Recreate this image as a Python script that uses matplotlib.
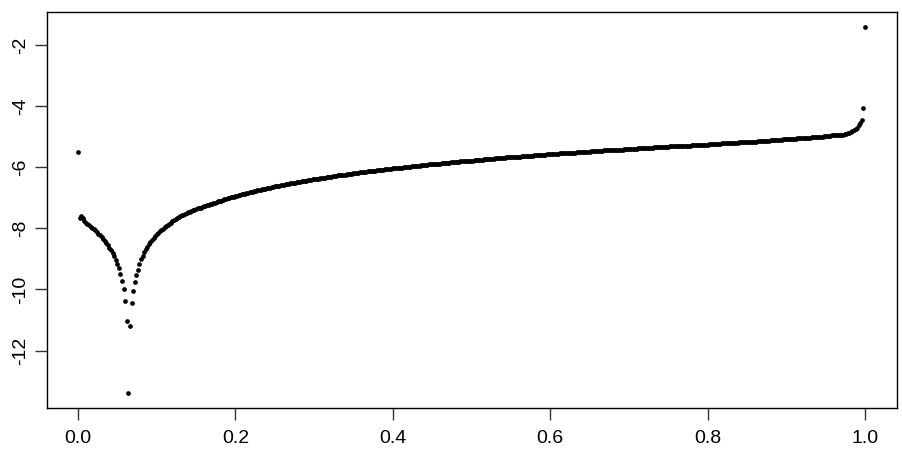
import numpy as np
import matplotlib
matplotlib.use("Agg")
import matplotlib.pyplot as plt

# ---- data ----
n_points = 501  # x runs over [0, 1] on an even grid

# values for x = 0.000 .. 0.064 (left branch and the dip)
y_left = [-5.50, -7.66, -7.60, -7.66, -7.76, -7.82, -7.86, -7.90, -7.94, -7.98,
          -8.03, -8.07, -8.12, -8.17, -8.23, -8.28, -8.35, -8.41, -8.48, -8.55,
          -8.63, -8.72, -8.82, -8.92, -9.04, -9.18, -9.31, -9.49, -9.71, -9.97,
          -10.37, -11.02, -13.40]

# values for x = 0.066 .. 0.996 (right branch)
y_right = [
    -11.20, -10.45, -10.06, -9.77, -9.54, -9.35, -9.17, -9.01, -8.89, -8.78,
    -8.69, -8.60, -8.52, -8.45, -8.38, -8.31, -8.25, -8.20, -8.14, -8.09,
    -8.06, -8.01, -7.97, -7.93, -7.89, -7.85, -7.81, -7.77, -7.74, -7.70,
    -7.67, -7.64, -7.61, -7.58, -7.55, -7.53, -7.50, -7.48, -7.46, -7.44,
    -7.41, -7.40, -7.37, -7.35, -7.34, -7.32, -7.30, -7.28, -7.26, -7.24,
    -7.23, -7.21, -7.19, -7.18, -7.16, -7.14, -7.12, -7.10, -7.09, -7.07,
    -7.05, -7.04, -7.02, -7.01, -6.99, -6.98, -6.96, -6.95, -6.93, -6.92,
    -6.90, -6.89, -6.87, -6.86, -6.85, -6.83, -6.82, -6.81, -6.80, -6.78,
    -6.77, -6.76, -6.75, -6.73, -6.72, -6.71, -6.70, -6.69, -6.68, -6.67,
    -6.65, -6.64, -6.63, -6.62, -6.61, -6.60, -6.59, -6.58, -6.57, -6.56,
    -6.55, -6.54, -6.53, -6.52, -6.51, -6.50, -6.49, -6.48, -6.47, -6.46,
    -6.46, -6.45, -6.44, -6.43, -6.42, -6.41, -6.40, -6.39, -6.39, -6.38,
    -6.37, -6.36, -6.35, -6.34, -6.34, -6.33, -6.32, -6.31, -6.31, -6.30,
    -6.29, -6.28, -6.27, -6.27, -6.26, -6.25, -6.25, -6.24, -6.23, -6.22,
    -6.22, -6.21, -6.20, -6.20, -6.19, -6.18, -6.17, -6.17, -6.16, -6.15,
    -6.15, -6.14, -6.13, -6.13, -6.12, -6.12, -6.11, -6.10, -6.10, -6.09,
    -6.08, -6.08, -6.07, -6.07, -6.06, -6.05, -6.05, -6.04, -6.04, -6.03,
    -6.02, -6.02, -6.01, -6.01, -6.00, -5.99, -5.99, -5.98, -5.98, -5.97,
    -5.97, -5.96, -5.96, -5.95, -5.95, -5.94, -5.93, -5.93, -5.92, -5.92,
    -5.91, -5.91, -5.90, -5.90, -5.89, -5.89, -5.88, -5.88, -5.87, -5.87,
    -5.86, -5.86, -5.85, -5.85, -5.84, -5.84, -5.83, -5.83, -5.82, -5.82,
    -5.81, -5.81, -5.80, -5.80, -5.79, -5.79, -5.79, -5.78, -5.78, -5.77,
    -5.77, -5.76, -5.76, -5.75, -5.75, -5.74, -5.74, -5.74, -5.73, -5.73,
    -5.72, -5.72, -5.71, -5.71, -5.71, -5.70, -5.70, -5.69, -5.69, -5.68,
    -5.68, -5.68, -5.67, -5.67, -5.66, -5.66, -5.66, -5.65, -5.65, -5.64,
    -5.64, -5.64, -5.63, -5.63, -5.62, -5.62, -5.62, -5.61, -5.61, -5.60,
    -5.60, -5.60, -5.59, -5.59, -5.59, -5.58, -5.58, -5.57, -5.57, -5.57,
    -5.56, -5.56, -5.56, -5.55, -5.55, -5.55, -5.54, -5.54, -5.53, -5.53,
    -5.53, -5.52, -5.52, -5.52, -5.51, -5.51, -5.51, -5.50, -5.50, -5.50,
    -5.49, -5.49, -5.49, -5.48, -5.48, -5.47, -5.47, -5.47, -5.46, -5.46,
    -5.46, -5.45, -5.45, -5.45, -5.44, -5.44, -5.44, -5.43, -5.43, -5.43,
    -5.42, -5.42, -5.42, -5.42, -5.41, -5.41, -5.41, -5.40, -5.40, -5.40,
    -5.39, -5.39, -5.39, -5.38, -5.38, -5.38, -5.38, -5.37, -5.37, -5.37,
    -5.36, -5.36, -5.36, -5.35, -5.35, -5.35, -5.35, -5.34, -5.34, -5.34,
    -5.33, -5.33, -5.33, -5.32, -5.32, -5.32, -5.32, -5.31, -5.31, -5.31,
    -5.30, -5.30, -5.30, -5.30, -5.29, -5.29, -5.29, -5.28, -5.28, -5.28,
    -5.28, -5.27, -5.27, -5.27, -5.27, -5.26, -5.26, -5.26, -5.25, -5.25,
    -5.25, -5.25, -5.24, -5.24, -5.23, -5.23, -5.22, -5.22, -5.22, -5.22,
    -5.21, -5.21, -5.21, -5.20, -5.20, -5.20, -5.20, -5.19, -5.18, -5.18,
    -5.18, -5.17, -5.17, -5.17, -5.17, -5.16, -5.16, -5.16, -5.16, -5.15,
    -5.15, -5.14, -5.14, -5.13, -5.13, -5.13, -5.13, -5.12, -5.12, -5.12,
    -5.12, -5.11, -5.11, -5.10, -5.10, -5.09, -5.09, -5.09, -5.09, -5.09,
    -5.07, -5.07, -5.07, -5.07, -5.06, -5.06, -5.06, -5.05, -5.04, -5.04,
    -5.04, -5.04, -5.03, -5.02, -5.02, -5.02, -5.02, -5.01, -5.00, -5.00,
    -5.00, -4.99, -4.98, -4.98, -4.98, -4.98, -4.96, -4.96, -4.96, -4.96,
    -4.94, -4.94, -4.94, -4.93, -4.92, -4.90, -4.89, -4.87, -4.85, -4.82,
    -4.79, -4.75, -4.70, -4.63, -4.55, -4.47]

# last two values (x = 0.998 and x = 1.000)
y_end = [-4.05, -1.40]

x_ticks = [0.0, 0.2, 0.4, 0.6, 0.8, 1.0]
x_tick_labels = ["0.0", "0.2", "0.4", "0.6", "0.8", "1.0"]
y_ticks = [-12, -10, -8, -6, -4, -2]
y_tick_labels = ["-12", "-10", "-8", "-6", "-4", "-2"]

# ---- plot ----
x = np.linspace(0.0, 1.0, n_points)
y = np.array(y_left + y_right + y_end)

plt.rcParams['font.family'] = ['Liberation Sans', 'DejaVu Sans']

fig = plt.figure(figsize=(9.02, 4.66), dpi=100)
ax = fig.add_axes([46.5 / 902, 1 - 408 / 466, (896.5 - 46.5) / 902, (408 - 12) / 466])

ax.plot(x, y, linestyle='none', marker='o', markersize=3.4,
        markeredgewidth=0, color='black')

# R-style 4% range extension
xr = x.max() - x.min()
yr = y.max() - y.min()
ax.set_xlim(x.min() - 0.04 * xr, x.max() + 0.04 * xr)
ax.set_ylim(y.min() - 0.04 * yr, y.max() + 0.04 * yr)

ax.set_xticks(x_ticks)
ax.set_xticklabels(x_tick_labels)
ax.set_yticks(y_ticks)
ax.set_yticklabels(y_tick_labels, rotation=90, va='center')

for s in ax.spines.values():
    s.set_linewidth(1.0)
    s.set_color('black')
ax.tick_params(axis='both', direction='out', length=8.5, width=1.0,
               color='#333333', labelsize=14, labelcolor='black')
ax.tick_params(axis='x', pad=7)
ax.tick_params(axis='y', pad=4)

fig.savefig("out.png", dpi=100)
